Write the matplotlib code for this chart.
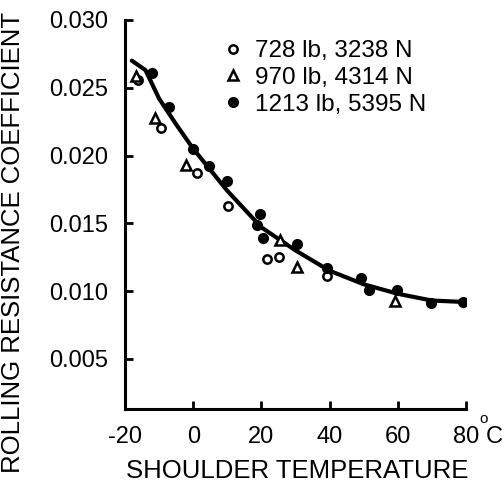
import matplotlib
matplotlib.use('Agg')
from matplotlib import pyplot as plt

plt.rcParams['font.family'] = ['Liberation Sans', 'DejaVu Sans']

# 728 lb, 3238 N (open circles)
x_728 = [-16.2, -9.4, 1.1, 10.2, 21.6, 25.2, 39.2]
y_728 = [0.0256, 0.0220, 0.0187, 0.0163, 0.0124, 0.0125, 0.0111]
# 970 lb, 4314 N (open triangles)
x_970 = [-16.8, -11.2, -2.1, 25.5, 30.4, 59.2]
y_970 = [0.0259, 0.0228, 0.0193, 0.0138, 0.0118, 0.0093]
# 1213 lb, 5395 N (filled circles)
x_1213 = [-12.1, -7.1, 0.0, 4.6, 9.9, 19.6, 18.7, 20.5, 30.4, 39.2, 49.2, 51.6, 59.8, 69.7, 79.1]
y_1213 = [0.0261, 0.0236, 0.0205, 0.0192, 0.0181, 0.0157, 0.0149, 0.0139, 0.0135, 0.0117,
          0.0110, 0.0101, 0.0101, 0.0091, 0.0092]
# fitted curve
x_fit = [-18, -14, -10, -5, 0, 10, 20, 30, 40, 50, 60, 70, 79]
y_fit = [0.0270, 0.0263, 0.0242, 0.0223, 0.0205, 0.0174, 0.0147, 0.0130, 0.0115, 0.0105,
         0.0098, 0.0093, 0.0092]

xticks = [-20, 0, 20, 40, 60, 80]
yticks = [0.005, 0.010, 0.015, 0.020, 0.025, 0.030]
labels = ['728 lb, 3238 N', '970 lb, 4314 N', '1213 lb, 5395 N']

fig = plt.figure(figsize=(5.04, 4.84), dpi=100)
ax = fig.add_axes([0.248, 0.155, 0.6766, 0.8037])

ax.plot(x_fit, y_fit, color='black', lw=3, solid_capstyle='round', zorder=2)
h1, = ax.plot(x_728, y_728, 'o', ms=6, mfc='white', mec='black', mew=1.8, zorder=3)
h2, = ax.plot(x_970, y_970, '^', ms=6.5, mfc='white', mec='black', mew=1.8, zorder=3)
h3, = ax.plot(x_1213, y_1213, 'o', ms=7, mfc='black', mec='black', zorder=3)

ax.set_xlim(-20, 80)
ax.set_ylim(0.0013, 0.030)
ax.set_xticks(xticks)
ax.set_yticks(yticks)
ax.set_xticklabels([str(t) for t in xticks])
ax.set_yticklabels(['%.3f' % t for t in yticks])
ax.tick_params(direction='in', length=6, width=2, labelsize=17, pad=12)

for s in ['top', 'right']:
    ax.spines[s].set_visible(False)
for s in ['left', 'bottom']:
    ax.spines[s].set_linewidth(2.2)

leg = ax.legend([h1, h2, h3], labels, loc='upper left', bbox_to_anchor=(0.232, 0.992),
                frameon=False, fontsize=17.5, handletextpad=0.4, labelspacing=0.2,
                handlelength=1.0, borderaxespad=0.3)

# degree sign and unit after the 80 tick label
fig.text(479 / 504, 1 - 412 / 484, 'o', fontsize=11, ha='left', va='top')
fig.text(486 / 504, 1 - 426 / 484, 'C', fontsize=17, ha='left', va='top')
fig.text(0.026, 0.5, 'ROLLING RESISTANCE COEFFICIENT', rotation=90, fontsize=18.5,
         ha='center', va='center')
fig.text(0.59, 0.026, 'SHOULDER TEMPERATURE', fontsize=18.5, ha='center', va='center')

plt.savefig('out.png', dpi=100)
plt.close(fig)
